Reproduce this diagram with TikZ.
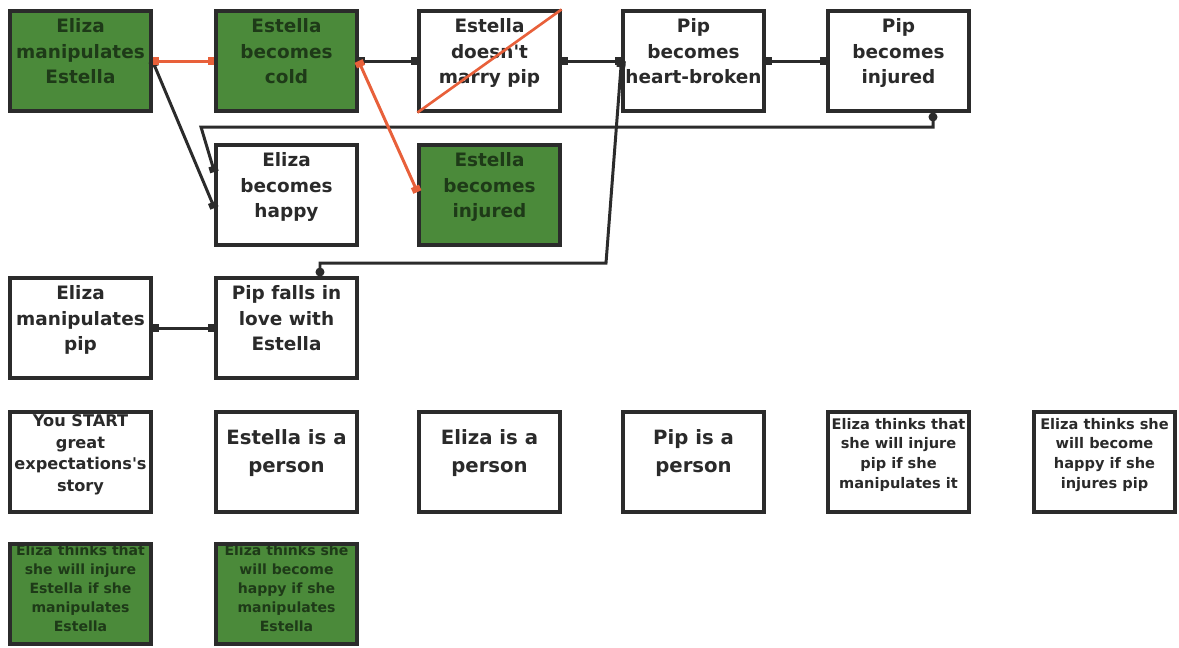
\documentclass[tikz,border=0pt]{standalone}
\usepackage{fontspec}
\setmainfont{DejaVu Sans}
\usetikzlibrary{arrows.meta}
\definecolor{greencol}{HTML}{4B8A3A}
\definecolor{linkcol}{HTML}{2B2B2B}
\definecolor{redcol}{HTML}{E8603A}
\definecolor{inkcol}{HTML}{2A2A2A}
\definecolor{darkink}{HTML}{1E3A18}
\tikzset{
  endsq/.tip={Square[length=3.5pt,width=5pt]},
  enddot/.tip={Circle[length=5pt]},
  ebox/.style={rectangle, draw=linkcol, line width=1.8pt, fill=white, minimum width=2.82cm, minimum height=2.0cm, inner sep=0pt, align=center, text=inkcol, font=\bfseries\fontsize{10.5}{14.7}\selectfont, text depth=0.4cm},
  gbox/.style={ebox, fill=greencol, text=darkink},
  pbox/.style={ebox, font=\bfseries\fontsize{11.2}{15.9}\selectfont, text depth=0.44cm},
  sbox/.style={ebox, font=\bfseries\fontsize{9.2}{12.5}\selectfont, text depth=0.36cm},
  tbox/.style={ebox, font=\bfseries\fontsize{8.3}{11.2}\selectfont, text depth=0.36cm},
  % green belief boxes: text runs over the top edge and is cut there
  gnote/.style={ebox, fill=greencol, path picture={
      \node[draw=none, fill=none, inner sep=0pt, minimum size=0pt, text depth=, align=center, text=darkink,
            font=\bfseries\fontsize{8}{10.8}\selectfont]
        at ([yshift=0.12cm]path picture bounding box.center) {#1};}},
  link/.style={draw=linkcol, line width=1.7pt, endsq-endsq},
  redlink/.style={link, draw=redcol},
  dotlink/.style={link, enddot-endsq},
}

\begin{document}
\begin{tikzpicture}[x=0.02cm, y=-0.02cm]
  \useasboundingbox (0,0) rectangle (1179,647);

  % story events
  \node[gbox] (EmE)      at (80.5,61)   {Eliza\\manipulates\\Estella};
  \node[gbox] (Ecold)    at (286.5,61)  {Estella\\becomes\\cold};
  \node[ebox] (Enomarry) at (489.5,61)  {Estella\\doesn\textquotesingle t\\marry pip};
  \node[ebox] (Pbroken)  at (693.5,61)  {Pip\\becomes\\heart-broken};
  \node[ebox] (Pinjured) at (898.5,61)  {Pip\\becomes\\injured};
  \node[ebox] (Ehappy)   at (286.5,195) {Eliza\\becomes\\happy};
  \node[gbox] (Einjured) at (489.5,195) {Estella\\becomes\\injured};
  \node[ebox] (Emanip)   at (80.5,328)  {Eliza\\manipulates\\pip};
  \node[ebox] (Plove)    at (286.5,328) {Pip falls in\\love with\\Estella};

  % facts and beliefs
  \node[sbox] (Start)     at (80.5,462)   {You START\\great\\expectations\textquotesingle s\\story};
  \node[pbox] (Eperson)   at (286.5,462)  {Estella is a\\person};
  \node[pbox] (Zperson)   at (489.5,462)  {Eliza is a\\person};
  \node[pbox] (Pperson)   at (693.5,462)  {Pip is a\\person};
  \node[tbox] (Tinjpip)   at (898.5,462)  {Eliza thinks that\\she will injure\\pip if she\\manipulates it};
  \node[tbox] (Thappypip) at (1104.5,462) {Eliza thinks she\\will become\\happy if she\\injures pip};
  \node[gnote={Eliza thinks that\\she will injure\\Estella if she\\manipulates\\Estella}] (Tinjest) at (80.5,594) {};
  \node[gnote={Eliza thinks she\\will become\\happy if she\\manipulates\\Estella}] (Thappyest) at (286.5,594) {};

  % links
  \draw[link] (Ecold.east) -- (Enomarry.west);
  \draw[link] (Enomarry.east) -- (Pbroken.west);
  \draw[link] (Pbroken.east) -- (Pinjured.west);
  \draw[link] (EmE.east) -- ([yshift=-0.26cm]Ehappy.west);
  \draw[link] (Emanip.east) -- (Plove.west);
  \draw[dotlink] ([xshift=0.69cm]Pinjured.south) |- (201,127) -- ([yshift=0.46cm]Ehappy.west);
  \draw[dotlink] ([xshift=0.67cm]Plove.north) |- (606,263) -- (Pbroken.west);
  \draw[redlink] (EmE.east) -- (Ecold.west);
  \draw[redlink] (Ecold.east) -- ([yshift=0.06cm]Einjured.west);
  \draw[redcol, line width=1.5pt] (Enomarry.south west) -- (Enomarry.north east);
\end{tikzpicture}
\end{document}
